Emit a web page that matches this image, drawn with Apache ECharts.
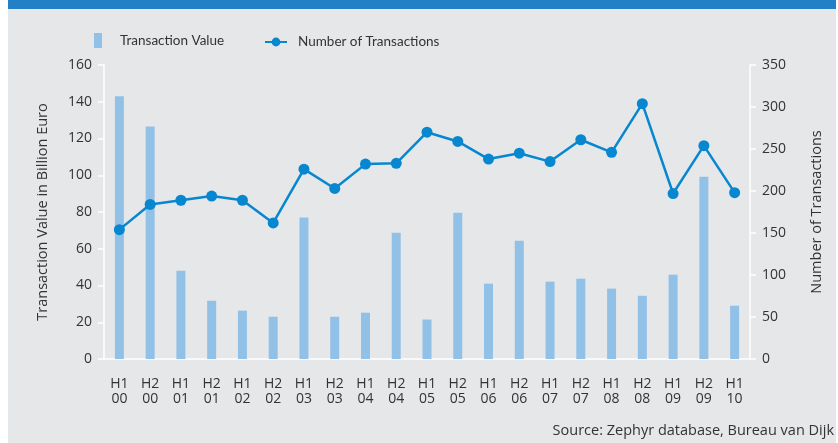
<!DOCTYPE html>
<html>
<head>
<meta charset="utf-8">
<script src="https://cdn.jsdelivr.net/npm/echarts@6/dist/echarts.min.js"></script>
<style>
  html, body { margin: 0; padding: 0; background: #fff; }
  #chart { width: 838px; height: 443px; }
</style>
</head>
<body>
<div id="chart"></div>
<script>
// categories (half-year / year)
var periods = ['H1\n00', 'H2\n00', 'H1\n01', 'H2\n01', 'H1\n02', 'H2\n02', 'H1\n03',
  'H2\n03', 'H1\n04', 'H2\n04', 'H1\n05', 'H2\n05', 'H1\n06', 'H2\n06', 'H1\n07',
  'H2\n07', 'H1\n08', 'H2\n08', 'H1\n09', 'H2\n09', 'H1\n10']
// transaction value, billion euro
var transValue = [143, 126.5, 48, 31.7, 26.3, 23, 77, 23, 25.2, 68.7, 21.5, 79.6,
  41, 64.4, 42.1, 43.7, 38.3, 34.4, 45.9, 99.2, 29]
// number of transactions
var transCount = [154, 184, 189, 194, 189, 162, 226, 203, 232, 233, 270, 259,
  238, 245, 235, 261, 246, 304, 197, 254, 198]

var font = '"Open Sans", "Noto Sans", sans-serif'
var narrow = 'Lato, "Open Sans", sans-serif'
var txt = '#333'

var ele = document.getElementById('chart')
var myChart = echarts.init(ele)

var option = {
  backgroundColor: '#fff',
  animation: false,
  textStyle: { fontFamily: font },
  graphic: [
    { type: 'rect', shape: { x: 8, y: 0, width: 828, height: 443 }, style: { fill: '#e6e7e9' }, z: -10 },
    { type: 'rect', shape: { x: 8, y: 0, width: 828, height: 9 }, style: { fill: '#2281c6' }, z: -9 },
    { type: 'text', right: 4, top: 423, style: { text: 'Source: Zephyr database, Bureau van Dijk', font: '14.5px ' + font, fill: txt } }
  ],
  legend: [
    {
      left: 89, top: 28,
      itemWidth: 8, itemHeight: 15,
      icon: 'rect',
      data: ['Transaction Value'],
      textStyle: { fontSize: 13.5, fontFamily: narrow, color: txt, padding: [0, 0, 0, 13] }
    },
    {
      left: 259, top: 30,
      itemWidth: 22, itemHeight: 11,
      data: ['Number of Transactions'],
      textStyle: { fontSize: 13.5, fontFamily: narrow, color: txt, padding: [0, 0, 0, 6] }
    }
  ],
  grid: { left: 104, right: 88, top: 65, bottom: 84 },
  xAxis: {
    type: 'category',
    data: periods,
    axisLine: { lineStyle: { color: '#fff', width: 1.5 } },
    axisTick: { show: false },
    axisLabel: { color: txt, fontSize: 14, margin: 18, lineHeight: 15 }
  },
  yAxis: [
    {
      type: 'value', min: 0, max: 160, interval: 20,
      name: 'Transaction Value in Billion Euro',
      nameLocation: 'middle', nameGap: 54, nameRotate: 90,
      nameTextStyle: { color: txt, fontSize: 14.5 },
      axisLine: { show: true, lineStyle: { color: '#fff', width: 1.5 } },
      axisTick: { show: true, length: 6, lineStyle: { color: '#fff', width: 1.5 } },
      splitLine: { show: false },
      axisLabel: { color: txt, fontSize: 14, margin: 12 }
    },
    {
      type: 'value', min: 0, max: 350, interval: 50,
      name: 'Number of Transactions',
      nameLocation: 'middle', nameGap: 59, nameRotate: 90,
      nameTextStyle: { color: txt, fontSize: 14.5 },
      axisLine: { show: true, lineStyle: { color: '#fff', width: 1.5 } },
      axisTick: { show: true, length: 6, lineStyle: { color: '#fff', width: 1.5 } },
      splitLine: { show: false },
      axisLabel: { color: txt, fontSize: 14, margin: 12 }
    }
  ],
  series: [
    {
      name: 'Transaction Value',
      type: 'bar',
      data: transValue,
      barWidth: 9,
      itemStyle: { color: '#92c1e8' }
    },
    {
      name: 'Number of Transactions',
      type: 'line',
      yAxisIndex: 1,
      data: transCount,
      symbol: 'circle',
      symbolSize: 11,
      itemStyle: { color: '#0787cf' },
      lineStyle: { color: '#0787cf', width: 2.5 }
    }
  ]
}
myChart.setOption(option)
</script>
</body>
</html>
